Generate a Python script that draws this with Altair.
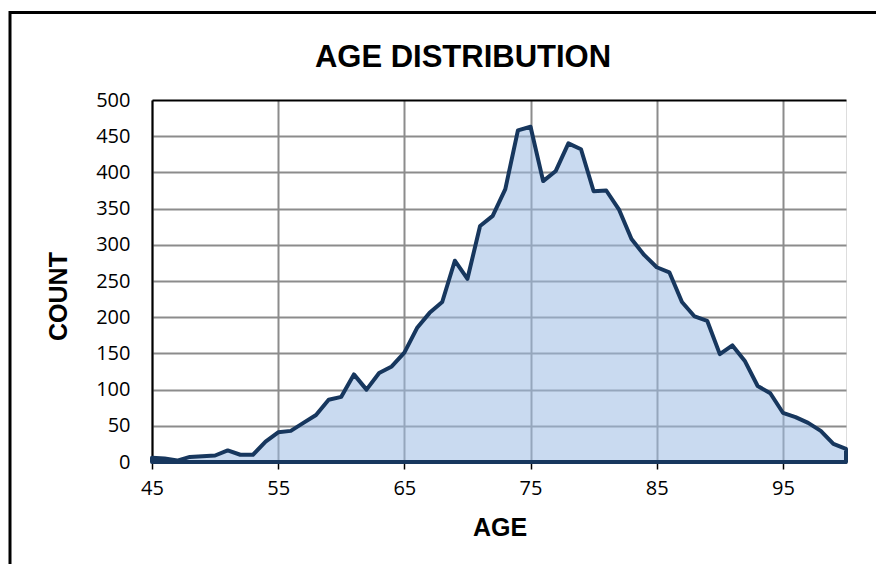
import altair as alt
import pandas as pd

ages = list(range(45, 101))
counts = [6, 5, 2, 7, 8, 9, 16, 10, 10, 28,
          41, 43, 54, 65, 86, 90, 121, 100, 123, 132,
          151, 185, 206, 221, 278, 253, 326, 340, 377, 458,
          463, 388, 402, 440, 432, 374, 375, 349, 308, 286,
          269, 262, 221, 201, 195, 149, 161, 139, 105, 95,
          68, 62, 54, 43, 25, 18]
x_ticks = [45, 55, 65, 75, 85, 95]
y_ticks = [0, 50, 100, 150, 200, 250, 300, 350, 400, 450, 500]
title_text = ["AGE DISTRIBUTION"]

df = pd.DataFrame({"age": ages, "count": counts})

area = alt.Chart(df).mark_area(
    color="#9DBBE3", fillOpacity=0.55,
    stroke="#17375E", strokeWidth=4, strokeJoin="round", strokeOpacity=1,
).encode(
    x=alt.X("age:Q", scale=alt.Scale(domain=[45, 100], nice=False, zero=False),
            axis=alt.Axis(values=x_ticks, title="AGE", grid=True,
                          gridColor="#8c8c8c", gridWidth=2,
                          domainColor="black", domainWidth=3,
                          tickColor="black", tickWidth=1.5, tickSize=7,
                          labelFont="Open Sans", labelFontSize=20, labelColor="black",
                          labelPadding=9, labelFlush=False,
                          titleFont="Liberation Sans", titleFontSize=25, titleFontWeight="bold",
                          titleColor="black", titleX=347.5, titleY=65.5,
                          titleBaseline="middle", titleAlign="center")),
    y=alt.Y("count:Q", scale=alt.Scale(domain=[0, 500], nice=False),
            axis=alt.Axis(values=y_ticks, title="COUNT", grid=True,
                          gridColor={"condition": {"test": "datum.value === 500", "value": "black"},
                                     "value": "#8c8c8c"},
                          gridWidth=2,
                          domainColor="black", domainWidth=2,
                          ticks=False, labelPadding=22, labelFlush=False,
                          labelFont="Open Sans", labelFontSize=20, labelColor="black",
                          titleFont="Liberation Sans", titleFontSize=25, titleFontWeight="bold",
                          titleColor="black", titleAngle=270, titleX=-94, titleY=196,
                          titleBaseline="middle", titleAlign="center")),
)

frame = alt.Chart(pd.DataFrame({"a": [0]})).mark_rect(
    fillOpacity=0, stroke="black", strokeWidth=3
).encode(
    x=alt.value(-142), x2=alt.value(900), y=alt.value(-87.5), y2=alt.value(600)
)

title = alt.Chart(pd.DataFrame({"t": title_text})).mark_text(
    font="Liberation Sans", fontSize=31, fontWeight="bold", color="black",
    align="center", baseline="alphabetic"
).encode(text="t:N", x=alt.value(311), y=alt.value(-33.5))

chart = alt.layer(area, frame, title).properties(
    width=694, height=362,
    autosize=alt.AutoSizeParams(type="none"),
    padding={"left": 144, "top": 92, "right": 30, "bottom": 102},
).configure_view(stroke="black", strokeWidth=2).configure(background="white")

chart.save("out.html", embed_options={"renderer": "svg", "actions": False})
